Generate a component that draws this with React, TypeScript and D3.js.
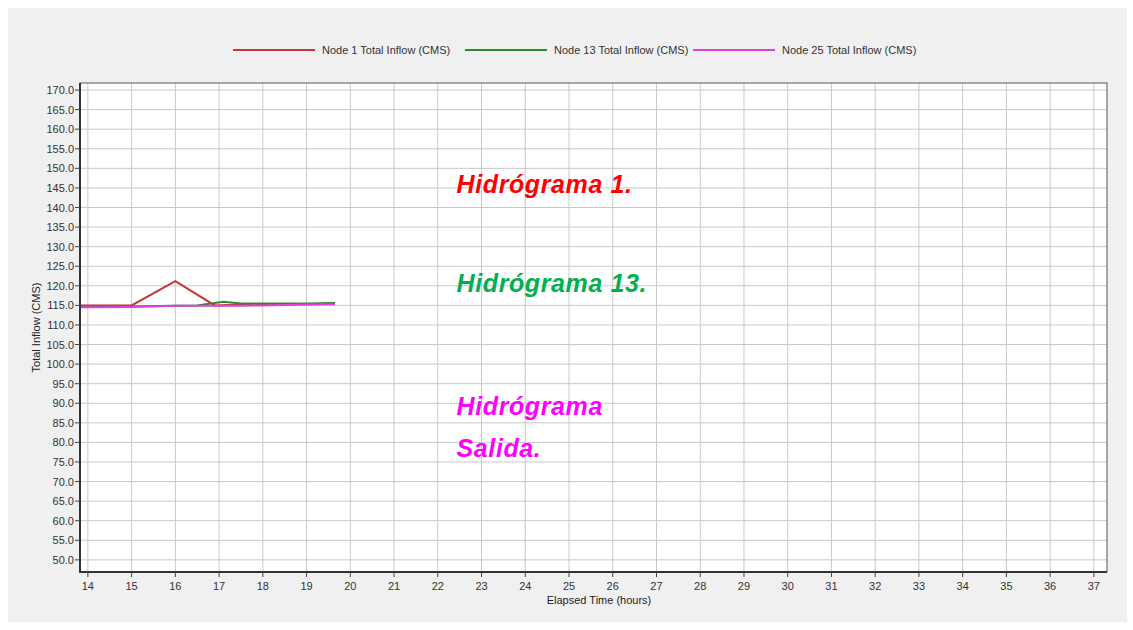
import React from "react";
import * as d3 from "d3";

const seriesNames = ["Node 1 Total Inflow (CMS)", "Node 13 Total Inflow (CMS)", "Node 25 Total Inflow (CMS)"];
const seriesColors = ["#c03838", "#2f8a2f", "#e040e0"];

const node1Time = [13.5, 14, 15, 16, 16.9, 17.5, 18, 19, 19.65];
const node1Flow = [115, 115, 115, 121.2, 115, 115.2, 115.3, 115.3, 115.4];
const node13Time = [13.5, 14, 15, 16, 16.5, 17.1, 17.5, 18, 19, 19.65];
const node13Flow = [114.6, 114.6, 114.7, 114.9, 115.0, 115.9, 115.5, 115.5, 115.5, 115.6];
const node25Time = [13.5, 14, 15, 16, 17, 17.5, 18, 19, 19.65];
const node25Flow = [114.5, 114.5, 114.6, 114.9, 114.9, 114.9, 115.0, 115.2, 115.3];

const xTicks = d3.range(14, 38, 1);
const yTicks = d3.range(50, 171, 5);

const annotations = [
  { lines: ["Hidrógrama 1."], color: "#ff0000", t: 22.43, v: 143.7 },
  { lines: ["Hidrógrama 13."], color: "#00b050", t: 22.43, v: 118.4 },
  { lines: ["Hidrógrama", "Salida."], color: "#ff00ff", t: 22.43, v: 87.0 },
];

export default function App() {
  const W = 1133, H = 630;
  const left = 80, right = 1107, top = 83, bottom = 572;
  const x = d3.scaleLinear().domain([13.82, 37.3]).range([left, right]);
  const y = d3.scaleLinear().domain([46.9, 171.8]).range([bottom, top]);
  const line = d3.line<[number, number]>().x(d => x(d[0])).y(d => y(d[1]));
  const series = [
    { t: node1Time, v: node1Flow },
    { t: node13Time, v: node13Flow },
    { t: node25Time, v: node25Flow },
  ];
  const tickColor = "#444";
  const font = "'Liberation Sans', Arial, sans-serif";
  const legendX = [233, 465, 693];
  return (
    <div style={{ position: "absolute", left: 0, top: 0 }}>
      <svg width={W} height={H} style={{ display: "block" }}>
        <rect x={0} y={0} width={W} height={H} fill="#ffffff" />
        <rect x={8} y={8} width={1119} height={614} fill="#f0f0f0" />
        <defs>
          <clipPath id="plotclip">
            <rect x={left} y={top} width={right - left} height={bottom - top} />
          </clipPath>
        </defs>
        <rect x={left} y={top} width={right - left} height={bottom - top} fill="#ffffff" />
        {xTicks.map(t => (
          <line key={"gx" + t} x1={x(t)} x2={x(t)} y1={top} y2={bottom} stroke="#c8c8c8" strokeWidth={1} />
        ))}
        {yTicks.map(v => (
          <line key={"gy" + v} x1={left} x2={right} y1={y(v)} y2={y(v)} stroke="#c8c8c8" strokeWidth={1} />
        ))}
        <g clipPath="url(#plotclip)">
          {series.map((s, i) => (
            <path key={i} d={line(s.t.map((t, j) => [t, s.v[j]]) as [number, number][]) || ""} fill="none" stroke={seriesColors[i]} strokeWidth={2} />
          ))}
        </g>
        <rect x={left} y={top} width={right - left} height={bottom - top} fill="none" stroke="#555" strokeWidth={1} />
        <line x1={left} x2={left} y1={top} y2={bottom + 1} stroke="#333" strokeWidth={2} />
        <line x1={left - 1} x2={right} y1={bottom} y2={bottom} stroke="#333" strokeWidth={2} />
        {yTicks.map(v => (
          <g key={"ty" + v}>
            <line x1={left - 5} x2={left} y1={y(v)} y2={y(v)} stroke={tickColor} />
            <text x={left - 6} y={y(v) + 4} textAnchor="end" fontFamily={font} fontSize={11} fill="#333">{v.toFixed(1)}</text>
          </g>
        ))}
        {xTicks.map(t => (
          <g key={"tx" + t}>
            <line x1={x(t)} x2={x(t)} y1={bottom} y2={bottom + 5} stroke={tickColor} />
            <text x={x(t)} y={bottom + 18} textAnchor="middle" fontFamily={font} fontSize={11} fill="#333">{t}</text>
          </g>
        ))}
        <text x={599} y={604} textAnchor="middle" fontFamily={font} fontSize={11} fill="#222">Elapsed Time (hours)</text>
        <text transform={`translate(40, ${(top + bottom) / 2}) rotate(-90)`} textAnchor="middle" fontFamily={font} fontSize={11} fill="#222">Total Inflow (CMS)</text>
        {seriesNames.map((n, i) => (
          <g key={"lg" + i}>
            <line x1={legendX[i]} x2={legendX[i] + 82} y1={50} y2={50} stroke={seriesColors[i]} strokeWidth={2} />
            <text x={legendX[i] + 89} y={54} fontFamily={font} fontSize={11} fill="#333">{n}</text>
          </g>
        ))}
        {annotations.map((a, i) => (
          <text key={"an" + i} x={x(a.t)} y={y(a.v)} fontFamily={font} fontSize={25} fontWeight="bold" fontStyle="italic" fill={a.color} letterSpacing={0.6}>
            {a.lines.map((l, j) => (
              <tspan key={j} x={x(a.t)} dy={j === 0 ? 0 : 42}>{l}</tspan>
            ))}
          </text>
        ))}
      </svg>
    </div>
  );
}
